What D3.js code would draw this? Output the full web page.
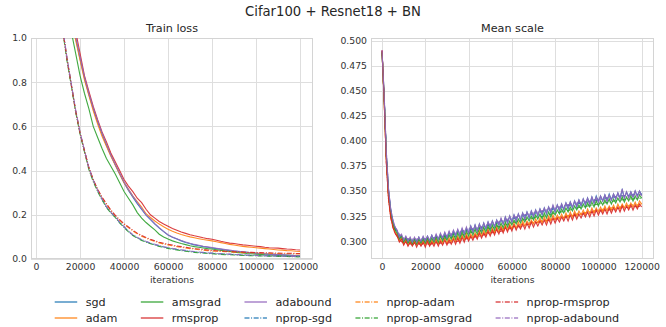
<!DOCTYPE html>
<html><head><meta charset="utf-8">
<script src="https://cdn.jsdelivr.net/npm/d3@7"></script>
<style>
body{margin:0;background:#fff}
svg{display:block;font-family:"DejaVu Sans",sans-serif}
</style>
</head><body>
<svg id="chart" width="666" height="327"></svg>
<script>
// ---------- data ----------
const seriesNames = ["sgd","adam","amsgrad","rmsprop","adabound",
  "nprop-sgd","nprop-adam","nprop-amsgrad","nprop-rmsprop","nprop-adabound"];
const seriesColors = ["#1f77b4","#ff7f0e","#2ca02c","#d62728","#9467bd",
  "#1f77b4","#ff7f0e","#2ca02c","#d62728","#9467bd"];
const seriesDashed = [false,false,false,false,false,true,true,true,true,true];

const xTicks = [0,20000,40000,60000,80000,100000,120000];
const lossTicks = [0.0,0.2,0.4,0.6,0.8,1.0];
const scaleTicks = [0.300,0.325,0.350,0.375,0.400,0.425,0.450,0.475,0.500];

// Train loss: iterations 10000..120000 step 2000
const lossIters = d3.range(10000, 120001, 2000);
const lossSgd = [1.57,1.42,1.27,1.11,1.0,0.905,0.82,0.745,0.68,0.62,
  0.565,0.515,0.47,0.425,0.385,0.345,0.31,0.28,0.25,0.224,
  0.198,0.178,0.158,0.140,0.124,0.108,0.098,0.090,0.082,0.075,
  0.069,0.064,0.060,0.056,0.053,0.050,0.047,0.044,0.041,0.038,
  0.036,0.034,0.032,0.030,0.028,0.026,0.025,0.023,0.022,0.021,
  0.020,0.019,0.018,0.017,0.016,0.015];
const lossAdam = [1.55,1.4,1.25,1.1,0.99,0.9,0.81,0.74,0.67,0.61,
  0.555,0.51,0.465,0.425,0.385,0.345,0.315,0.285,0.26,0.235,
  0.205,0.188,0.172,0.158,0.146,0.135,0.126,0.118,0.111,0.105,
  0.100,0.096,0.092,0.088,0.085,0.082,0.078,0.074,0.070,0.066,
  0.063,0.060,0.057,0.055,0.053,0.051,0.049,0.047,0.045,0.043,
  0.041,0.040,0.038,0.037,0.035,0.034];
const lossAmsgrad = [1.45,1.3,1.15,1.03,0.93,0.83,0.75,0.68,0.60,0.55,
  0.50,0.455,0.42,0.385,0.345,0.305,0.275,0.245,0.21,0.185,
  0.165,0.148,0.132,0.112,0.100,0.090,0.082,0.076,0.070,0.065,
  0.060,0.056,0.053,0.050,0.047,0.045,0.042,0.039,0.036,0.034,
  0.031,0.029,0.027,0.025,0.024,0.022,0.021,0.019,0.018,0.017,
  0.016,0.015,0.014,0.013,0.013,0.012];
const lossRmsprop = [1.6,1.45,1.3,1.14,1.03,0.93,0.83,0.76,0.69,0.63,
  0.575,0.53,0.48,0.44,0.40,0.36,0.33,0.305,0.275,0.255,
  0.225,0.200,0.185,0.17,0.158,0.148,0.138,0.130,0.122,0.116,
  0.110,0.105,0.101,0.096,0.092,0.089,0.085,0.080,0.076,0.072,
  0.070,0.067,0.064,0.062,0.060,0.058,0.056,0.053,0.051,0.050,
  0.049,0.047,0.045,0.044,0.042,0.041];
const lossAdabound = [1.58,1.43,1.28,1.12,1.01,0.915,0.825,0.75,0.685,0.625,
  0.57,0.52,0.47,0.43,0.39,0.35,0.315,0.285,0.255,0.228,
  0.20,0.18,0.16,0.142,0.125,0.110,0.100,0.092,0.084,0.077,
  0.071,0.066,0.062,0.058,0.055,0.052,0.049,0.046,0.043,0.040,
  0.037,0.035,0.033,0.030,0.028,0.027,0.025,0.024,0.022,0.021,
  0.020,0.019,0.018,0.017,0.016,0.015];
const lossNpropSgd = [1.25,1.05,0.91,0.79,0.67,0.57,0.49,0.41,0.355,0.31,
  0.27,0.235,0.21,0.19,0.165,0.145,0.125,0.108,0.096,0.086,
  0.078,0.071,0.065,0.059,0.054,0.050,0.046,0.043,0.040,0.037,
  0.035,0.032,0.030,0.029,0.027,0.026,0.024,0.023,0.022,0.021,
  0.020,0.019,0.018,0.017,0.0165,0.016,0.015,0.0145,0.014,0.0135,
  0.013,0.0125,0.012,0.0115,0.011,0.0105];
const lossNpropAdam = [1.25,1.05,0.91,0.79,0.67,0.57,0.49,0.413,0.358,0.313,
  0.277,0.247,0.219,0.195,0.175,0.157,0.142,0.127,0.114,0.103,
  0.094,0.086,0.079,0.073,0.068,0.064,0.060,0.056,0.053,0.050,
  0.047,0.045,0.042,0.040,0.038,0.036,0.035,0.034,0.033,0.032,
  0.031,0.030,0.029,0.028,0.028,0.027,0.027,0.026,0.026,0.025,
  0.025,0.024,0.024,0.024,0.023,0.023];
const lossNpropAmsgrad = [1.24,1.04,0.90,0.785,0.665,0.565,0.485,0.405,0.35,0.305,
  0.268,0.233,0.208,0.188,0.163,0.143,0.123,0.106,0.094,0.084,
  0.076,0.069,0.063,0.057,0.052,0.048,0.044,0.041,0.038,0.035,
  0.033,0.030,0.028,0.027,0.025,0.024,0.022,0.021,0.020,0.019,
  0.018,0.017,0.016,0.0155,0.015,0.0145,0.014,0.0135,0.013,0.0125,
  0.012,0.0115,0.011,0.0105,0.010,0.0095];
const lossNpropRmsprop = [1.25,1.05,0.91,0.79,0.67,0.57,0.49,0.415,0.36,0.315,
  0.28,0.25,0.222,0.198,0.178,0.16,0.145,0.13,0.117,0.106,
  0.097,0.089,0.082,0.076,0.071,0.067,0.063,0.059,0.056,0.053,
  0.050,0.047,0.045,0.043,0.041,0.039,0.037,0.036,0.035,0.034,
  0.033,0.032,0.031,0.030,0.030,0.029,0.029,0.028,0.028,0.027,
  0.027,0.026,0.026,0.026,0.025,0.025];
const lossNpropAdabound = [1.26,1.06,0.915,0.795,0.675,0.575,0.492,0.413,0.358,0.312,
  0.272,0.237,0.212,0.192,0.167,0.147,0.127,0.110,0.098,0.088,
  0.080,0.073,0.067,0.061,0.056,0.052,0.048,0.045,0.042,0.039,
  0.036,0.034,0.032,0.030,0.028,0.027,0.025,0.024,0.023,0.022,
  0.021,0.020,0.019,0.018,0.017,0.0165,0.016,0.015,0.0145,0.014,
  0.0135,0.013,0.0125,0.012,0.0115,0.011];

// Mean scale: iterations 0..120000 step 1000
const scaleIters = d3.range(0, 120001, 1000);
const scaleSgd = [0.489,0.443,0.386,0.350,0.331,0.320,0.313,0.310,0.303,0.306,
  0.300,0.304,0.299,0.303,0.299,0.303,0.299,0.304,0.299,0.304,
  0.300,0.305,0.300,0.306,0.301,0.306,0.302,0.307,0.302,0.308,
  0.303,0.309,0.304,0.310,0.305,0.311,0.306,0.312,0.307,0.313,
  0.308,0.315,0.309,0.316,0.310,0.317,0.311,0.318,0.312,0.319,
  0.313,0.320,0.314,0.321,0.316,0.322,0.317,0.324,0.318,0.325,
  0.319,0.326,0.320,0.327,0.321,0.328,0.322,0.329,0.323,0.330,
  0.324,0.331,0.325,0.332,0.326,0.333,0.327,0.334,0.328,0.335,
  0.329,0.336,0.330,0.337,0.331,0.338,0.332,0.339,0.333,0.340,
  0.334,0.341,0.335,0.342,0.336,0.343,0.337,0.344,0.338,0.345,
  0.339,0.345,0.340,0.346,0.340,0.347,0.341,0.347,0.342,0.348,
  0.343,0.351,0.343,0.349,0.344,0.349,0.344,0.350,0.345,0.350,
  0.346];
const scaleAdam = [0.489,0.438,0.380,0.344,0.326,0.316,0.309,0.306,0.300,0.303,
  0.297,0.301,0.296,0.300,0.296,0.300,0.296,0.300,0.296,0.301,
  0.296,0.301,0.296,0.301,0.297,0.302,0.297,0.302,0.298,0.303,
  0.298,0.303,0.299,0.304,0.300,0.305,0.300,0.306,0.301,0.307,
  0.302,0.307,0.303,0.308,0.304,0.310,0.305,0.311,0.306,0.312,
  0.307,0.313,0.308,0.314,0.309,0.315,0.310,0.316,0.311,0.317,
  0.312,0.318,0.313,0.319,0.314,0.320,0.315,0.320,0.316,0.321,
  0.317,0.322,0.318,0.323,0.318,0.324,0.319,0.325,0.320,0.326,
  0.321,0.326,0.322,0.327,0.322,0.328,0.323,0.329,0.324,0.330,
  0.325,0.330,0.326,0.331,0.326,0.332,0.327,0.333,0.328,0.333,
  0.329,0.334,0.329,0.335,0.330,0.335,0.331,0.336,0.331,0.337,
  0.332,0.337,0.333,0.338,0.333,0.338,0.334,0.339,0.334,0.340,
  0.337];
const scaleAmsgrad = [0.488,0.442,0.384,0.348,0.329,0.318,0.311,0.308,0.302,0.305,
  0.299,0.303,0.298,0.302,0.297,0.302,0.297,0.302,0.298,0.302,
  0.298,0.303,0.298,0.303,0.299,0.304,0.299,0.305,0.300,0.305,
  0.301,0.306,0.302,0.307,0.302,0.308,0.303,0.309,0.304,0.310,
  0.305,0.311,0.306,0.312,0.307,0.313,0.308,0.314,0.309,0.315,
  0.310,0.316,0.311,0.317,0.312,0.318,0.313,0.319,0.314,0.320,
  0.316,0.321,0.317,0.322,0.318,0.323,0.319,0.324,0.320,0.325,
  0.321,0.326,0.322,0.327,0.322,0.328,0.323,0.329,0.324,0.330,
  0.326,0.331,0.327,0.332,0.328,0.333,0.329,0.334,0.330,0.335,
  0.331,0.336,0.332,0.337,0.333,0.338,0.334,0.339,0.334,0.340,
  0.335,0.340,0.336,0.341,0.337,0.342,0.337,0.342,0.338,0.343,
  0.339,0.344,0.339,0.344,0.340,0.345,0.340,0.345,0.341,0.346,
  0.343];
const scaleRmsprop = [0.490,0.440,0.378,0.342,0.324,0.314,0.308,0.305,0.299,0.302,
  0.296,0.300,0.295,0.299,0.295,0.299,0.294,0.299,0.295,0.299,
  0.294,0.300,0.295,0.299,0.295,0.300,0.295,0.300,0.296,0.301,
  0.296,0.301,0.297,0.302,0.297,0.303,0.298,0.304,0.299,0.305,
  0.300,0.305,0.301,0.306,0.302,0.308,0.303,0.308,0.304,0.310,
  0.305,0.311,0.306,0.312,0.307,0.313,0.308,0.314,0.309,0.315,
  0.310,0.316,0.311,0.316,0.312,0.317,0.312,0.318,0.313,0.319,
  0.314,0.319,0.315,0.320,0.316,0.321,0.316,0.322,0.317,0.323,
  0.318,0.323,0.319,0.324,0.320,0.325,0.320,0.326,0.321,0.327,
  0.322,0.327,0.323,0.328,0.324,0.329,0.324,0.330,0.325,0.331,
  0.326,0.331,0.327,0.332,0.327,0.333,0.328,0.333,0.329,0.334,
  0.329,0.335,0.330,0.335,0.331,0.336,0.331,0.336,0.332,0.337,
  0.334];
const scaleAdabound = [0.490,0.445,0.388,0.352,0.332,0.321,0.314,0.311,0.304,0.307,
  0.301,0.305,0.300,0.304,0.299,0.304,0.299,0.304,0.300,0.305,
  0.300,0.305,0.301,0.306,0.301,0.307,0.302,0.308,0.303,0.309,
  0.304,0.310,0.305,0.311,0.306,0.312,0.306,0.313,0.307,0.314,
  0.308,0.315,0.309,0.316,0.310,0.317,0.311,0.318,0.313,0.319,
  0.314,0.320,0.315,0.321,0.316,0.323,0.317,0.324,0.318,0.325,
  0.319,0.326,0.320,0.327,0.321,0.328,0.322,0.329,0.324,0.330,
  0.325,0.331,0.326,0.332,0.327,0.333,0.328,0.334,0.329,0.336,
  0.330,0.336,0.331,0.337,0.332,0.338,0.333,0.339,0.334,0.340,
  0.335,0.341,0.336,0.342,0.337,0.343,0.337,0.344,0.338,0.344,
  0.339,0.345,0.340,0.346,0.340,0.346,0.341,0.347,0.342,0.348,
  0.342,0.352,0.343,0.349,0.343,0.349,0.344,0.350,0.344,0.350,
  0.345];
// nprop mean-scale curves (coarser sampling)
const scaleItersCoarse = [0,1000,2000,3000,4000,5000,6000,8000,10000,14000,18000,22000,
  26000,30000,35000,40000,45000,50000,55000,60000,65000,70000,75000,80000,
  85000,90000,95000,100000,105000,110000,115000,120000];
const scaleNpropSgd = [0.489,0.443,0.386,0.350,0.331,0.320,0.313,0.306,0.302,0.301,0.301,0.302,
  0.304,0.305,0.308,0.311,0.313,0.316,0.319,0.322,0.325,0.327,0.330,0.332,
  0.335,0.337,0.339,0.341,0.343,0.345,0.346,0.347];
const scaleNpropAdam = [0.489,0.439,0.380,0.344,0.326,0.316,0.309,0.302,0.299,0.298,0.298,0.298,
  0.299,0.300,0.302,0.304,0.307,0.309,0.312,0.314,0.317,0.319,0.321,0.323,
  0.325,0.327,0.329,0.331,0.333,0.334,0.336,0.337];
const scaleNpropAmsgrad = [0.488,0.442,0.384,0.348,0.329,0.318,0.311,0.304,0.301,0.300,0.300,0.300,
  0.302,0.303,0.305,0.308,0.310,0.313,0.315,0.318,0.321,0.323,0.325,0.328,
  0.330,0.333,0.335,0.337,0.339,0.341,0.342,0.343];
const scaleNpropRmsprop = [0.490,0.440,0.378,0.342,0.324,0.314,0.308,0.301,0.298,0.297,0.297,0.297,
  0.298,0.298,0.300,0.303,0.305,0.308,0.310,0.313,0.315,0.318,0.320,0.322,
  0.324,0.326,0.328,0.330,0.331,0.333,0.334,0.335];
const scaleNpropAdabound = [0.490,0.445,0.388,0.352,0.332,0.321,0.314,0.307,0.303,0.302,0.302,0.303,
  0.304,0.306,0.309,0.312,0.314,0.317,0.320,0.323,0.326,0.328,0.331,0.333,
  0.336,0.338,0.340,0.342,0.344,0.345,0.346,0.347];

const lossValues = [lossSgd,lossAdam,lossAmsgrad,lossRmsprop,lossAdabound,
  lossNpropSgd,lossNpropAdam,lossNpropAmsgrad,lossNpropRmsprop,lossNpropAdabound];
const scaleValues = [scaleSgd,scaleAdam,scaleAmsgrad,scaleRmsprop,scaleAdabound,
  scaleNpropSgd,scaleNpropAdam,scaleNpropAmsgrad,scaleNpropRmsprop,scaleNpropAdabound];
const scaleItersFor = seriesDashed.map(d => d ? scaleItersCoarse : scaleIters);

// ---------- drawing ----------
const svg = d3.select("#chart");
const GRID = "#dedede", TEXT = "#333";
const DASH = "5,1.6,1,1.6";

svg.append("text").attr("x", 333).attr("y", 16).attr("text-anchor","middle")
  .attr("font-size", 13.2).attr("fill", "#262626").text("Cifar100 + Resnet18 + BN");

function panel(opts, id) {
  const x = d3.scaleLinear().domain(opts.xDomain).range([opts.left, opts.right]);
  const y = d3.scaleLinear().domain(opts.yDomain).range([opts.bottom, opts.top]);
  const g = svg.append("g");
  g.append("g").selectAll("line").data(xTicks).join("line")
    .attr("x1", d => Math.round(x(d)) + 0.5).attr("x2", d => Math.round(x(d)) + 0.5)
    .attr("y1", opts.top).attr("y2", opts.bottom)
    .attr("stroke", GRID).attr("stroke-width", 1);
  g.append("g").selectAll("line").data(opts.yTicks).join("line")
    .attr("y1", d => Math.round(y(d)) + 0.5).attr("y2", d => Math.round(y(d)) + 0.5)
    .attr("x1", opts.left).attr("x2", opts.right)
    .attr("stroke", GRID).attr("stroke-width", 1);
  g.append("rect").attr("x", opts.left + 0.5).attr("y", opts.top + 0.5)
    .attr("width", opts.right - opts.left - 1).attr("height", opts.bottom - opts.top - 1)
    .attr("fill", "none").attr("stroke", "#d4d4d4").attr("stroke-width", 1);
  const xAxis = d3.axisBottom(x).tickValues(xTicks).tickSize(0).tickPadding(4).tickFormat(d3.format("d"));
  const xa = g.append("g").attr("transform", `translate(0,${opts.bottom})`).call(xAxis);
  const yAxis = d3.axisLeft(y).tickValues(opts.yTicks).tickSize(0).tickPadding(4).tickFormat(d3.format(opts.yFmt));
  const ya = g.append("g").attr("transform", `translate(${opts.left},0)`).call(yAxis);
  [xa, ya].forEach(a => {
    a.select(".domain").remove();
    a.selectAll("text").attr("font-size", 9.3).attr("fill", TEXT).attr("font-family", "DejaVu Sans");
  });
  g.append("text").attr("x", (opts.left + opts.right) / 2).attr("y", 32)
    .attr("text-anchor", "middle").attr("font-size", 11.2).attr("fill", "#262626").text(opts.title);
  g.append("text").attr("x", (opts.left + opts.right) / 2).attr("y", 283)
    .attr("text-anchor", "middle").attr("font-size", 9.3).attr("fill", TEXT).text("iterations");
  svg.append("clipPath").attr("id", id).append("rect")
    .attr("x", opts.left).attr("y", opts.top)
    .attr("width", opts.right - opts.left).attr("height", opts.bottom - opts.top);
  const lines = g.append("g").attr("clip-path", `url(#${id})`);
  const line = d3.line().x(d => x(d[0])).y(d => y(d[1]));
  opts.order.forEach(i => {
    const xs = opts.iters[i];
    const pts = opts.values[i].map((v, k) => [xs[k], v]);
    lines.append("path").datum(pts).attr("d", line)
      .attr("fill", "none").attr("stroke", seriesColors[i])
      .attr("stroke-width", 1.1).attr("stroke-opacity", 0.9)
      .attr("stroke-dasharray", seriesDashed[i] ? DASH : null);
  });
}

panel({
  left: 31, right: 313, top: 38, bottom: 259,
  xDomain: [-2300, 125900], yDomain: [0, 1],
  yTicks: lossTicks, yFmt: ".1f", title: "Train loss",
  iters: seriesNames.map(() => lossIters), values: lossValues,
  order: [0,1,2,3,4,5,6,7,8,9]
}, "clipLoss");

panel({
  left: 371, right: 654, top: 38, bottom: 259,
  xDomain: [-5100, 125700], yDomain: [0.2822, 0.5025],
  yTicks: scaleTicks, yFmt: ".3f", title: "Mean scale",
  iters: scaleItersFor, values: scaleValues,
  order: [5,6,7,8,9,0,1,2,3,4]
}, "clipScale");

// ---------- legend (2 rows, column-major) ----------
const leg = svg.append("g");
const rowY = [302, 318];
let colX = 54.7;
for (let c = 0; c < 5; c++) {
  let maxW = 0;
  for (let r = 0; r < 2; r++) {
    const i = c * 2 + r;
    leg.append("line").attr("x1", colX).attr("x2", colX + 22.5)
      .attr("y1", rowY[r]).attr("y2", rowY[r])
      .attr("stroke", seriesColors[i]).attr("stroke-width", 1.5).attr("stroke-opacity", 0.8)
      .attr("stroke-dasharray", seriesDashed[i] ? DASH : null);
    const t = leg.append("text").attr("x", colX + 31).attr("y", rowY[r] + 4)
      .attr("font-size", 11.2).attr("fill", "#262626").text(seriesNames[i]);
    maxW = Math.max(maxW, t.node().getComputedTextLength());
  }
  colX += 31 + maxW + 23.4;
}
</script>
</body></html>
